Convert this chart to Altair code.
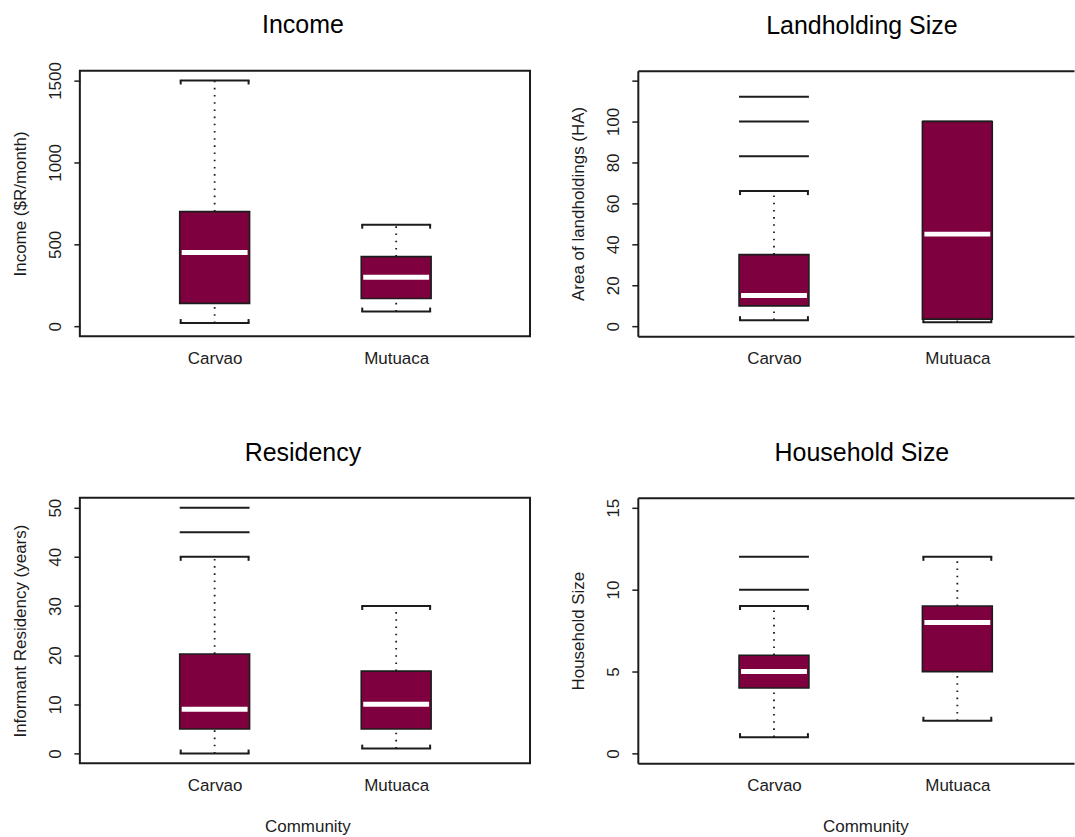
import json

import altair as alt
import pandas as pd

# ---- data -------------------------------------------------------------
communities = ["Carvao", "Mutuaca"]
positions = [1, 2]

# five-number summaries per community (lower whisker, Q1, median, Q3, upper whisker)
income_low = [20, 90]
income_q1 = [140, 170]
income_median = [450, 300]
income_q3 = [700, 425]
income_high = [1500, 620]
income_outliers = [[], []]

land_low = [3, 2]
land_q1 = [10, 3.5]
land_median = [15, 45]
land_q3 = [35, 100]
land_high = [66, 100]
land_outliers = [[83, 100, 112], []]

res_low = [0, 1]
res_q1 = [5, 5]
res_median = [9, 10]
res_q3 = [20.25, 16.75]
res_high = [40, 30]
res_outliers = [[45, 50], []]

hh_low = [1, 2]
hh_q1 = [4, 5]
hh_median = [5, 8]
hh_q3 = [6, 9]
hh_high = [9, 12]
hh_outliers = [[10, 12], []]

# ---- styling ----------------------------------------------------------
FONT = "Liberation Sans"
INK = "#1c1c1c"
FILL = "#7F003F"
BOX_W = 70
PLOT_H = 266
LEFT_W = 451
RIGHT_W = 437

label_expr = f"{json.dumps(communities)}[datum.value - 1]"


def panel(title, y_title, low, q1, med, q3, high, outliers, y_domain, y_ticks,
          x_domain, width, right_col, bottom_row, title_offset, hide_tick=None):
    stats = pd.DataFrame({
        "community": communities, "pos": positions, "low": low, "q1": q1,
        "median": med, "q3": q3, "high": high,
    })
    out_rows = [(positions[i], v) for i, vals in enumerate(outliers) for v in vals]
    out_df = pd.DataFrame(out_rows, columns=["pos", "value"])

    x_axis = dict(
        values=positions, labelExpr=label_expr, ticks=False, grid=False,
        domain=right_col, domainColor=INK, domainWidth=2,
        labelFontSize=17, labelColor=INK, labelBaseline="alphabetic",
        labelPadding=27, labelAngle=0, labelAlign="center",
    )
    if bottom_row:
        x_axis.update(
            title="Community", titleFontSize=17, titleFontWeight="normal",
            titleColor=INK, titleBaseline="alphabetic", titleAlign="center",
            titleY=68, titleX=228,
        )
    else:
        x_axis.update(title=None)

    y_axis = dict(
        values=y_ticks, format="d", labelAngle=270, labelAlign="center",
        labelBaseline="alphabetic", labelPadding=13.5, tickSize=6, tickWidth=1.5,
        tickColor=INK, domain=right_col, domainColor=INK, domainWidth=2,
        grid=False, labelFontSize=17, labelColor=INK,
        title=y_title, titleFontSize=17, titleFontWeight="normal",
        titleColor=INK, titleAngle=270, titleAlign="center",
        titleBaseline="alphabetic", titleX=-54, titleY=PLOT_H / 2,
    )
    if hide_tick is not None:
        y_axis["labelExpr"] = f"datum.value == {hide_tick} ? '' : datum.label"

    x_scale = alt.Scale(domain=x_domain, nice=False, zero=False)
    y_scale = alt.Scale(domain=y_domain, nice=False, zero=False)
    x_plain = alt.X("pos:Q", axis=None)

    base = alt.Chart(stats)
    dotted = dict(color=INK, strokeWidth=1.8, strokeDash=[1.6, 5.6])
    line = dict(orient="horizontal", size=BOX_W, thickness=2, color=INK, opacity=1)
    hook = dict(orient="vertical", size=4, thickness=2, color=INK, opacity=1)

    upper_whisker = base.mark_rule(**dotted).encode(
        x=alt.X("pos:Q", scale=x_scale, axis=alt.Axis(**x_axis)),
        y=alt.Y("q3:Q", scale=y_scale, axis=alt.Axis(**y_axis)),
        y2="high:Q",
    )
    lower_whisker = base.mark_rule(**dotted).encode(
        x=x_plain, y="low:Q", y2="q1:Q"
    )
    staple_hi = base.mark_tick(**line).encode(x=x_plain, y="high:Q")
    staple_lo = base.mark_tick(**line).encode(x=x_plain, y="low:Q")
    # short end caps turning the staples towards the box
    half = BOX_W / 2 - 1
    caps = [
        base.mark_tick(xOffset=sx * half, yOffset=sy * 2, **hook).encode(
            x=x_plain, y=f"{field}:Q")
        for field, sy in (("high", 1), ("low", -1)) for sx in (-1, 1)
    ]
    box = base.mark_bar(
        orient="vertical", size=BOX_W, fill=FILL, stroke=INK, strokeWidth=1.6,
        opacity=1,
    ).encode(x=x_plain, y="q1:Q", y2="q3:Q")
    median = base.mark_tick(
        orient="horizontal", size=BOX_W - 4, thickness=5, color="white",
        opacity=1,
    ).encode(x=x_plain, y="median:Q")

    layers = [upper_whisker, lower_whisker, staple_hi, staple_lo, *caps, box, median]
    if len(out_df):
        layers.append(
            alt.Chart(out_df).mark_tick(**line).encode(x=x_plain, y="value:Q")
        )

    props = dict(width=width, height=PLOT_H)
    title_kw = dict(
        text=title, fontSize=25, font=FONT, fontWeight="normal", color="black",
        baseline="alphabetic", offset=title_offset, anchor="middle",
    )
    if right_col:
        # open-ended frame: top edge drawn by a label-less top axis
        top_edge = base.mark_point(opacity=0).encode(
            x=alt.X("pos:Q", axis=alt.Axis(
                orient="top", labels=False, ticks=False, grid=False,
                domain=True, domainColor=INK, domainWidth=2, title=None)),
            y="q1:Q",
        )
        layers.append(top_edge)
        title_kw["dx"] = 6
        props["view"] = alt.ViewBackground(stroke="transparent")
    else:
        title_kw["dx"] = -2

    return alt.layer(*layers).properties(
        title=alt.TitleParams(**title_kw), **props
    ).resolve_axis(x="independent")


left_x = [0.285, 0.285 + LEFT_W / 186]
right_x = [0.2846, 0.2846 + RIGHT_W / 188]

income = panel("Income", "Income ($R/month)", income_low, income_q1,
               income_median, income_q3, income_high, income_outliers,
               [-60, 1560], [0, 500, 1000, 1500], left_x, LEFT_W, False, False,
               title_offset=4)
land = panel("Landholding Size", "Area of landholdings (HA)", land_low, land_q1,
             land_median, land_q3, land_high, land_outliers,
             [-4.8, 124.8], [0, 20, 40, 60, 80, 100, 120], right_x, RIGHT_W,
             True, False, title_offset=12, hide_tick=120)
res = panel("Residency", "Informant Residency (years)", res_low, res_q1,
            res_median, res_q3, res_high, res_outliers,
            [-2, 52], [0, 10, 20, 30, 40, 50], left_x, LEFT_W, False, True,
            title_offset=12)
house = panel("Household Size", "Household Size", hh_low, hh_q1, hh_median,
              hh_q3, hh_high, hh_outliers, [-0.6, 15.6], [0, 5, 10, 15],
              right_x, RIGHT_W, True, True, title_offset=12)

chart = alt.concat(
    income, land, res, house, columns=2,
    spacing={"row": 162, "column": 108}, bounds="flush",
).properties(
    padding={"left": 10, "top": 10, "right": 0, "bottom": 0},
    background="white",
).configure_view(
    stroke=INK, strokeWidth=2
).configure_axis(
    labelFont=FONT, titleFont=FONT
).configure_title(
    font=FONT
)

chart.save("out.html", embed_options={"renderer": "svg", "actions": False})
